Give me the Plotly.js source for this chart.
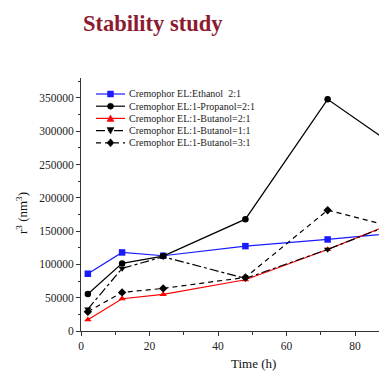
<!DOCTYPE html>
<html>
<head>
<meta charset="utf-8">
<script src="https://cdn.plot.ly/plotly-3.0.1.min.js"></script>
<style>html,body{margin:0;padding:0;background:#fff;}#chart{width:379px;height:371px;}</style>
</head>
<body>
<div id="chart"></div>
<script>
// ---- data ----
const hours = [2, 12, 24, 48, 72, 96];
const ethanol21 = [86000, 118000, 113000, 127500, 137500, 149000];
const propanol21 = [55500, 101500, 112500, 168000, 348000, 262000];
const butanol21 = [17000, 48500, 55000, 77000, 122500, 172000];
const butanol11 = [33000, 94000, 111500, 79000, 122500, 171000];
const butanol31 = [29000, 58000, 64000, 80500, 181500, 150000];
const seriesNames = [
  'Cremophor EL:Ethanol  2:1',
  'Cremophor EL:1-Propanol=2:1',
  'Cremophor EL:1-Butanol=2:1',
  'Cremophor EL:1-Butanol=1:1',
  'Cremophor EL:1-Butanol=3:1'
];
const seriesValues = [ethanol21, propanol21, butanol21, butanol11, butanol31];
const chartTitle = 'Stability study';
const xTitle = 'Time (h)';
const yTitle = 'r<sup>3</sup> (nm<sup>3</sup>)';

// ---- styles ----
const styles = [
  {color: '#1a1aff', dash: 'solid', symbol: 'square', shape: 'square'},
  {color: '#000000', dash: 'solid', symbol: 'circle', shape: 'circle'},
  {color: '#ff0000', dash: 'solid', symbol: 'triangle-up', shape: 'tri-up'},
  {color: '#000000', dash: 'dashdot', symbol: 'triangle-down', shape: 'tri-down'},
  {color: '#000000', dash: '5px,4px', symbol: 'diamond', shape: 'diamond'}
];
const serif = 'Liberation Serif, Times New Roman, serif';

const traces = seriesValues.map((vals, i) => ({
  type: 'scatter', mode: 'lines+markers',
  x: hours, y: vals, name: seriesNames[i],
  line: {color: styles[i].color, width: 1.2, dash: styles[i].dash},
  marker: {symbol: styles[i].symbol, size: 6.5, color: styles[i].color}
}));

// plot geometry (pixels)
const W = 379, H = 371, L = 81, R = 0, T = 78, B = 40;
const pw = W - L - R, ph = H - T - B;
const px2x = p => (p - L) / pw;
const py2y = p => (H - B - p) / ph;

const annotations = [
  {text: '<b>' + chartTitle + '</b>', xref: 'paper', yref: 'paper', x: px2x(81), y: py2y(24),
   xanchor: 'left', yanchor: 'middle', showarrow: false,
   font: {family: serif, size: 22.5, color: '#8c1a30'}},
  {text: xTitle, xref: 'paper', yref: 'paper', x: px2x(253), y: py2y(363),
   xanchor: 'center', yanchor: 'middle', showarrow: false,
   font: {family: serif, size: 13, color: '#111'}},
  {text: yTitle, xref: 'paper', yref: 'paper', x: px2x(22), y: py2y(213), textangle: -90,
   xanchor: 'center', yanchor: 'middle', showarrow: false,
   font: {family: serif, size: 13, color: '#111'}}
];
const shapes = [];
const rowY = [94, 106.2, 118.4, 130.6, 142.8];
seriesNames.forEach((nm, i) => {
  const yy = py2y(rowY[i]);
  annotations.push({text: nm, xref: 'paper', yref: 'paper', x: px2x(127), y: yy,
    xanchor: 'left', yanchor: 'middle', showarrow: false,
    font: {family: serif, size: 10, color: '#222'}});
  shapes.push({type: 'line', xref: 'paper', yref: 'paper', x0: px2x(96), x1: px2x(125), y0: yy, y1: yy,
    line: {color: styles[i].color, width: 1.2, dash: styles[i].dash}});
  const s = styles[i].shape, c = styles[i].color;
  const base = {xref: 'paper', yref: 'paper', xsizemode: 'pixel', ysizemode: 'pixel',
    xanchor: px2x(110.5), yanchor: yy, fillcolor: c, line: {color: c, width: 0.5}};
  if (s === 'square') shapes.push(Object.assign({type: 'rect', x0: -3, x1: 3, y0: -3, y1: 3}, base));
  else if (s === 'circle') shapes.push(Object.assign({type: 'circle', x0: -3, x1: 3, y0: -3, y1: 3}, base));
  else if (s === 'tri-up') shapes.push(Object.assign({type: 'path', path: 'M-3.5,-3 L3.5,-3 L0,3.5 Z'}, base));
  else if (s === 'tri-down') shapes.push(Object.assign({type: 'path', path: 'M-3.5,3 L3.5,3 L0,-3.5 Z'}, base));
  else shapes.push(Object.assign({type: 'path', path: 'M0,-4 L3.5,0 L0,4 L-3.5,0 Z'}, base));
});

const axisCommon = {
  showline: true, linecolor: '#333', linewidth: 1, showgrid: false, zeroline: false,
  ticks: 'outside', ticklen: 4, tickwidth: 1, tickcolor: '#333',
  tickfont: {family: serif, size: 11.5, color: '#222'}
};
const layout = {
  width: W, height: H, margin: {l: L, r: R, t: T, b: B, pad: 0},
  paper_bgcolor: '#fff', plot_bgcolor: '#fff', showlegend: false,
  xaxis: Object.assign({}, axisCommon, {range: [0, 87], tick0: 0, dtick: 20,
    minor: {dtick: 10, ticks: 'outside', ticklen: 2.5, tickcolor: '#333', showgrid: false}}),
  yaxis: Object.assign({}, axisCommon, {range: [0, 380000], tick0: 0, dtick: 50000, tickformat: 'd',
    minor: {dtick: 25000, ticks: 'outside', ticklen: 2.5, tickcolor: '#333', showgrid: false}}),
  annotations: annotations, shapes: shapes
};
Plotly.newPlot('chart', traces, layout, {staticPlot: true, displayModeBar: false});
</script>
</body>
</html>
